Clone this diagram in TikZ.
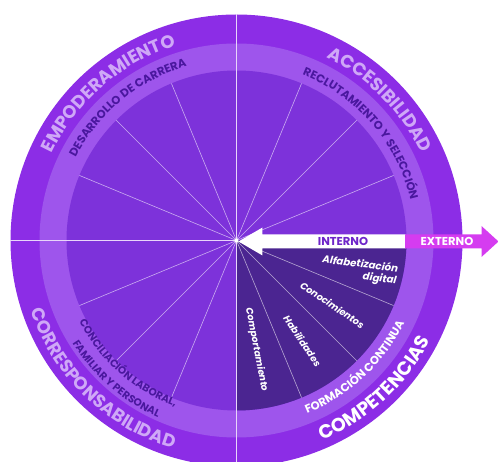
\documentclass[tikz,border=0pt]{standalone}
\usepackage{fontspec}
\setmainfont{Poppins}
\usetikzlibrary{decorations.text}
\definecolor{ringout}{HTML}{8C2DE6}
\definecolor{ringband}{HTML}{9E55EC}
\definecolor{ringin}{HTML}{7D32DA}
\definecolor{darkq}{HTML}{4B2591}
\definecolor{arrowpink}{HTML}{D53CF0}
\definecolor{lavtext}{HTML}{CFA8F7}
\definecolor{deeptext}{HTML}{4A179E}
\definecolor{internotext}{HTML}{6E25C9}
\newcommand{\outerfont}{\fontsize{18}{18}\selectfont\bfseries}
\newcommand{\bandfont}{\fontsize{11.5}{11.5}\selectfont\bfseries}
\newcommand{\smallband}{\fontsize{10.5}{10.5}\selectfont\bfseries}
\begin{document}
\begin{tikzpicture}[x=1pt,y=1pt,
  spoke/.style={white,opacity=0.6,line width=0.6pt},
  axisline/.style={white!80!ringout,line width=0.9pt},
  ringtext/.style 2 args={decorate,decoration={text along path,text align=center,text color=#1,text={#2}}},
  sectortext/.style={white,font=\fontsize{9.5}{11}\selectfont\bfseries\itshape,inner sep=0pt}]
  \useasboundingbox (-236.5,-221.5) rectangle (261.5,240.5);
  \coordinate (O) at (0,0);
  % rings
  \fill[ringout]  (O) circle (226);
  \fill[ringband] (O) circle (197);
  \fill[ringin]   (O) circle (170);
  % dark quarter
  \fill[darkq] (O) -- (0:170) arc (0:-90:170) -- cycle;
  % spokes
  \foreach \a in {22.5,45,...,337.5} \draw[spoke] (O) -- (\a:170);
  % axes
  \draw[axisline] (90:226) -- (270:226);
  \draw[axisline] (180:226) -- (O);
  \fill[white] (O) circle (2);
  % arrow
  \fill[white] (2,-1) -- (26,13) -- (26,6) -- (169,6) -- (169,-8) -- (26,-8) -- (26,-15) -- cycle;
  \fill[arrowpink] (168.5,6) -- (245,6) -- (245,14.5) -- (262,-1) -- (245,-16.5) -- (245,-8) -- (168.5,-8) -- cycle;
  \node[internotext,font=\fontsize{11.5}{11.5}\selectfont\bfseries] (interno) at (106.5,-1) {INTERNO};
  \node[white,font=\fontsize{11.5}{11.5}\selectfont\bfseries] (externo) at (210.5,-1) {EXTERNO};
  % outer ring labels
  \path[ringtext={lavtext}{|\outerfont|EMPODERAMIENTO}] (191:204) arc[start angle=191,end angle=71,radius=204];
  \path[ringtext={lavtext}{|\outerfont|ACCESIBILIDAD}] (104.5:204) arc[start angle=104.5,end angle=-15.5,radius=204];
  \path[ringtext={lavtext}{|\outerfont|CORRESPONSABILIDAD}] (166:217.5) arc[start angle=166,end angle=286,radius=217.5];
  \path[ringtext={white}{|\fontsize{19}{19}\selectfont\bfseries|COMPETENCIAS}] (253:218) arc[start angle=253,end angle=373,radius=218];
  % band labels
  \path[ringtext={deeptext}{|\bandfont|DESARROLLO DE CARRERA}] (189.3:181) arc[start angle=189.3,end angle=69.3,radius=181];
  \path[ringtext={deeptext}{|\bandfont|RECLUTAMIENTO Y SELECCIÓN}] (100.7:178.5) arc[start angle=100.7,end angle=-19.3,radius=178.5];
  \path[ringtext={deeptext}{|\smallband|CONCILIACIÓN LABORAL,}] (168.5:177) arc[start angle=168.5,end angle=288.5,radius=177];
  \path[ringtext={deeptext}{|\smallband|FAMILIAR Y PERSONAL}] (169:193.5) arc[start angle=169,end angle=289,radius=193.5];
  \path[ringtext={white}{|\bandfont|FORMACIÓN CONTINUA}] (253:187) arc[start angle=253,end angle=373,radius=187];
  % competencias
  \node[sectortext,font=\fontsize{10.2}{12}\selectfont\bfseries\itshape,align=right,rotate=-7] (alfa) at (123,-30) {Alfabetización\\digital};
  \node[sectortext,rotate=-34] (cono) at (96,-64.5) {Conocimientos};
  \node[sectortext,rotate=-56] (habi) at (66,-100.5) {Habilidades};
  \node[sectortext,rotate=-79] (comp) at (20,-109) {Comportamiento};
\end{tikzpicture}
\end{document}
